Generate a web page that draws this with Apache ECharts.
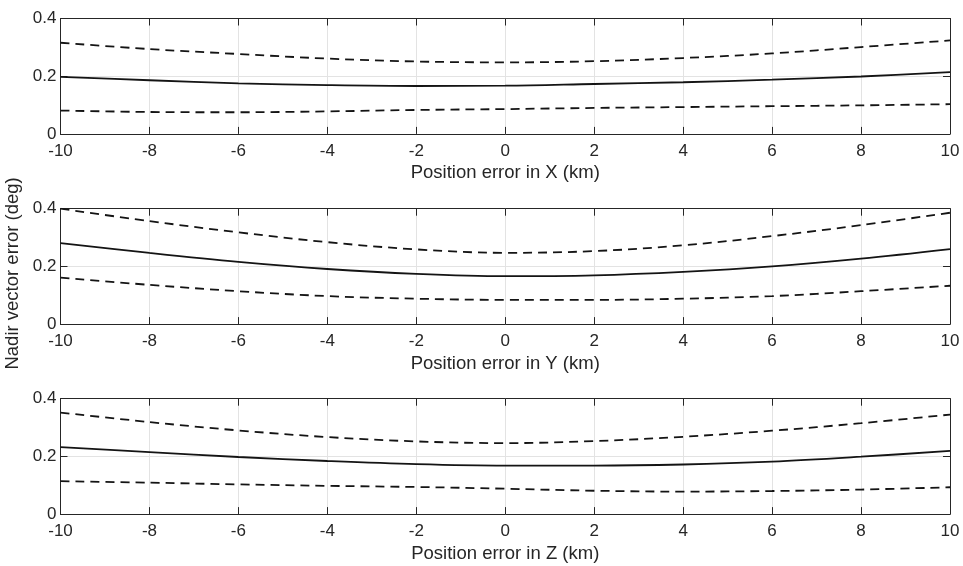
<!DOCTYPE html>
<html>
<head>
<meta charset="utf-8">
<script src="https://cdn.jsdelivr.net/npm/echarts@6/dist/echarts.min.js"></script>
<style>
  html, body { margin: 0; padding: 0; background: #fff; }
  #chart { width: 963px; height: 566px; }
</style>
</head>
<body>
<div id="chart"></div>
<script>
// Position error (km) sampled every 2 km
const positionError = [-10, -8, -6, -4, -2, 0, 2, 4, 6, 8, 10];
const xTickLabels = ['-10', '-8', '-6', '-4', '-2', '0', '2', '4', '6', '8', '10'];
const yTickLabels = ['0', '0.2', '0.4'];

// Nadir vector error (deg) vs position error in X
const errX_mean  = [0.198, 0.186, 0.175, 0.169, 0.166, 0.167, 0.173, 0.179, 0.188, 0.199, 0.214];
const errX_upper = [0.316, 0.294, 0.277, 0.261, 0.251, 0.248, 0.252, 0.263, 0.279, 0.301, 0.324];
const errX_lower = [0.081, 0.076, 0.075, 0.078, 0.083, 0.086, 0.090, 0.093, 0.096, 0.099, 0.103];

// Nadir vector error (deg) vs position error in Y
const errY_mean  = [0.281, 0.247, 0.216, 0.191, 0.174, 0.166, 0.169, 0.181, 0.200, 0.227, 0.260];
const errY_upper = [0.400, 0.357, 0.318, 0.284, 0.259, 0.247, 0.253, 0.273, 0.305, 0.343, 0.386];
const errY_lower = [0.161, 0.136, 0.114, 0.097, 0.088, 0.084, 0.084, 0.088, 0.097, 0.114, 0.133];

// Nadir vector error (deg) vs position error in Z
const errZ_mean  = [0.232, 0.215, 0.198, 0.184, 0.173, 0.168, 0.168, 0.172, 0.182, 0.199, 0.219];
const errZ_upper = [0.352, 0.319, 0.290, 0.267, 0.252, 0.246, 0.253, 0.268, 0.289, 0.315, 0.345];
const errZ_lower = [0.114, 0.109, 0.103, 0.098, 0.094, 0.088, 0.081, 0.078, 0.080, 0.085, 0.093];

const axisTitles = ['Position error in X (km)', 'Position error in Y (km)', 'Position error in Z (km)'];
const yAxisTitle = 'Nadir vector error (deg)';

const panels = [
  { mean: errX_mean, upper: errX_upper, lower: errX_lower },
  { mean: errY_mean, upper: errY_upper, lower: errY_lower },
  { mean: errZ_mean, upper: errZ_upper, lower: errZ_lower }
];

const FONT = "'Liberation Sans', Arial, Helvetica, sans-serif";
const INK = '#262626';
const GRIDLINE = '#e3e3e3';
const panelTops = [18.5, 208.7, 398.7];
const panelHeight = 115.4;

const grids = [], xAxes = [], yAxes = [], series = [];

const boxLine = { show: true, onZero: false, lineStyle: { color: INK, width: 1 } };
const boxTick = { show: true, inside: true, length: 7, lineStyle: { color: INK, width: 1 } };

panels.forEach((p, i) => {
  grids.push({
    left: 60.5, right: 13, top: panelTops[i], height: panelHeight,
    outerBoundsMode: 'none', containLabel: false,
    show: false
  });

  // bottom x axis with labels and grid lines
  xAxes.push({
    type: 'value', gridIndex: i, position: 'bottom',
    min: -10, max: 10, interval: 2,
    name: axisTitles[i], nameLocation: 'middle', nameGap: 30,
    nameTextStyle: { fontFamily: FONT, fontSize: 18.5, color: INK },
    axisLine: boxLine,
    axisTick: boxTick,
    axisLabel: {
      fontFamily: FONT, fontSize: 17, color: INK, margin: 9,
      formatter: v => xTickLabels[positionError.indexOf(v)] ?? String(v)
    },
    splitLine: { show: true, lineStyle: { color: GRIDLINE, width: 1 } }
  });
  // top x axis: box edge and ticks only
  xAxes.push({
    type: 'value', gridIndex: i, position: 'top',
    min: -10, max: 10, interval: 2,
    axisLine: boxLine,
    axisTick: boxTick,
    axisLabel: { show: false },
    splitLine: { show: false }
  });

  // left y axis with labels and grid lines
  yAxes.push({
    type: 'value', gridIndex: i, position: 'left',
    min: 0, max: 0.4, interval: 0.2,
    name: i === 1 ? yAxisTitle : '',
    nameLocation: 'middle', nameGap: 33,
    nameTextStyle: { fontFamily: FONT, fontSize: 18.5, color: INK, padding: [0, 14, 0, 0] },
    axisLine: boxLine,
    axisTick: boxTick,
    axisLabel: {
      fontFamily: FONT, fontSize: 17, color: INK, margin: 4,
      formatter: v => yTickLabels[Math.round(v / 0.2)] ?? String(v)
    },
    splitLine: { show: true, lineStyle: { color: GRIDLINE, width: 1 } }
  });
  // right y axis: box edge and ticks only
  yAxes.push({
    type: 'value', gridIndex: i, position: 'right',
    min: 0, max: 0.4, interval: 0.2,
    axisLine: boxLine,
    axisTick: boxTick,
    axisLabel: { show: false },
    splitLine: { show: false }
  });

  const pair = arr => positionError.map((x, k) => [x, arr[k]]);
  const base = {
    type: 'line', xAxisIndex: 2 * i, yAxisIndex: 2 * i,
    showSymbol: false, smooth: 0.35, silent: true, animation: false, z: 3
  };
  series.push(Object.assign({}, base, {
    data: pair(p.upper),
    lineStyle: { color: '#141414', width: 1.8, type: [9, 6] }
  }));
  series.push(Object.assign({}, base, {
    data: pair(p.mean),
    lineStyle: { color: '#141414', width: 1.8, type: 'solid' }
  }));
  series.push(Object.assign({}, base, {
    data: pair(p.lower),
    lineStyle: { color: '#141414', width: 1.8, type: [9, 6] }
  }));
});

const chart = echarts.init(document.getElementById('chart'), null, { renderer: 'canvas' });
chart.setOption({
  backgroundColor: '#fff',
  animation: false,
  grid: grids,
  xAxis: xAxes,
  yAxis: yAxes,
  series: series
});
</script>
</body>
</html>
